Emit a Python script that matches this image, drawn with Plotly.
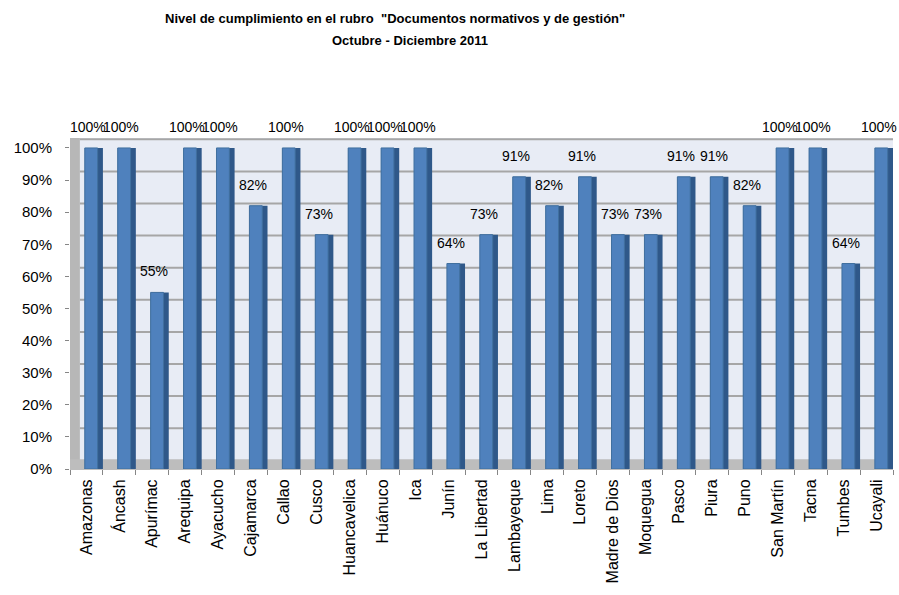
import plotly.graph_objects as go

regiones = ["Amazonas", "Áncash", "Apurímac", "Arequipa", "Ayacucho", "Cajamarca",
            "Callao", "Cusco", "Huancavelica", "Huánuco", "Ica", "Junín",
            "La Libertad", "Lambayeque", "Lima", "Loreto", "Madre de Dios",
            "Moquegua", "Pasco", "Piura", "Puno", "San Martín", "Tacna",
            "Tumbes", "Ucayali"]
cumplimiento = [1.00, 1.00, 0.55, 1.00, 1.00, 0.82, 1.00, 0.73, 1.00, 1.00, 1.00,
                0.64, 0.73, 0.91, 0.82, 0.91, 0.73, 0.73, 0.91, 0.91, 0.82,
                1.00, 1.00, 0.64, 1.00]
y_ticks = [0, 0.1, 0.2, 0.3, 0.4, 0.5, 0.6, 0.7, 0.8, 0.9, 1.0]
y_tick_labels = [f"{int(round(v*100))}%" for v in y_ticks]
titulo1 = 'Nivel de cumplimiento en el rubro  "Documentos normativos y de gestión"'
titulo2 = "Octubre - Diciembre 2011"

FONT = "Liberation Sans"
fig = go.Figure()

# dark side face of bars (pseudo 3D)
fig.add_trace(go.Bar(x=regiones, y=cumplimiento, width=0.55, offset=-0.05,
                     marker=dict(color="#2F5889", line=dict(width=0)),
                     hoverinfo="skip", showlegend=False))
# front face
fig.add_trace(go.Bar(x=regiones, y=cumplimiento, width=0.39, offset=-0.05,
                     marker=dict(color="#4F81BD", line=dict(color="#41709F", width=1)),
                     showlegend=False))

shapes = []
# left side wall
shapes.append(dict(type="rect", xref="paper", yref="paper", x0=0, x1=0.012, y0=0, y1=1,
                   fillcolor="#B7B7B7", line=dict(width=0), layer="below"))
# floor
shapes.append(dict(type="rect", xref="paper", yref="y", x0=0, x1=1, y0=0, y1=0.03,
                   fillcolor="#BDBDBD", line=dict(width=0), layer="below"))
# gridlines on back wall
for v in y_ticks[1:]:
    shapes.append(dict(type="line", xref="paper", yref="y", x0=0.012, x1=1,
                       y0=v + 0.027, y1=v + 0.027,
                       line=dict(color="#A6A6A6", width=2), layer="below"))

annotations = []
for r, v in zip(regiones, cumplimiento):
    annotations.append(dict(x=r, y=v, xref="x", yref="y", text=f"{int(round(v*100))}%",
                            showarrow=False, yanchor="middle", yshift=21, xshift=2,
                            font=dict(family=FONT, size=14, color="#000000")))
annotations.append(dict(x=0.395, y=1.3625, xref="paper", yref="paper", text=f"<b>{titulo1}</b>",
                        showarrow=False, yanchor="middle", xanchor="center",
                        font=dict(family=FONT, size=13, color="#000000")))
annotations.append(dict(x=0.413, y=1.296, xref="paper", yref="paper", text=f"<b>{titulo2}</b>",
                        showarrow=False, yanchor="middle", xanchor="center",
                        font=dict(family=FONT, size=13, color="#000000")))

fig.update_layout(
    width=899, height=595,
    margin=dict(l=70, r=6, t=138, b=126, autoexpand=False),
    paper_bgcolor="#FFFFFF",
    plot_bgcolor="#E8ECF5",
    barmode="overlay",
    shapes=shapes,
    annotations=annotations,
    xaxis=dict(type="category", tickangle=-90, showgrid=False, tickson="boundaries",
               ticks="outside", ticklen=5, tickcolor="#868686", showline=True,
               linecolor="#BDBDBD", linewidth=1, automargin=False,
               ticklabelstandoff=3,
               tickfont=dict(family=FONT, size=16, color="#000000"),
               range=[-0.5, len(regiones) - 0.5]),
    yaxis=dict(range=[0, 1.031], tickvals=y_ticks, ticktext=y_tick_labels,
               showgrid=False, zeroline=False, ticks="outside", ticklen=4,
               tickcolor="#868686", showline=False, automargin=False,
               ticklabelstandoff=10,
               tickfont=dict(family=FONT, size=15, color="#000000")),
)

# remove the default page margin so the 899x595 figure fills the window exactly
fig.write_html("out.html",
               config={"displayModeBar": False},
               post_script="document.body.style.margin='0';document.body.style.overflow='hidden';")
